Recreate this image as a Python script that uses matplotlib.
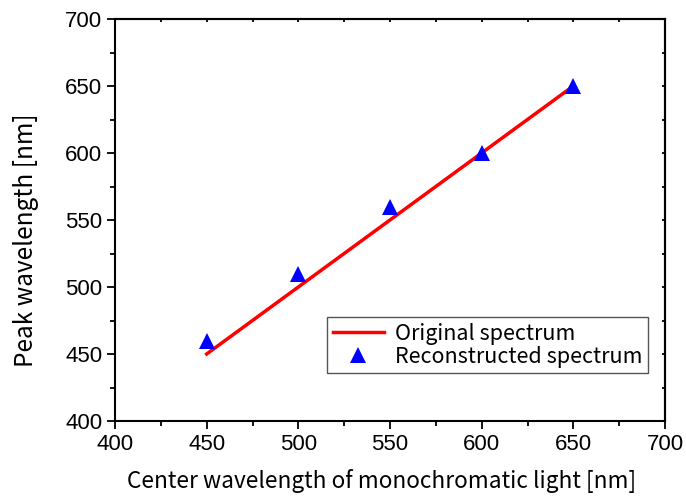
import matplotlib
matplotlib.use("Agg")
import matplotlib.pyplot as plt
from matplotlib.ticker import MultipleLocator

center_wl = [450, 500, 550, 600, 650]
original_peak = [450, 500, 550, 600, 650]
reconstructed_peak = [460, 510, 560, 600, 650]

fig = plt.figure(figsize=(6.86, 4.99), dpi=100)
ax = fig.add_axes([115/686, 1-421/499, (665-115)/686, (421-19)/499])

ax.plot(center_wl, original_peak, color="red", lw=2.5, label="Original spectrum")
ax.plot(center_wl, reconstructed_peak, ls="none", marker="^", color="blue",
        markersize=11.5, markeredgewidth=0, label="Reconstructed spectrum")

ax.set_xlim(400, 700)
ax.set_ylim(400, 700)
ax.xaxis.set_major_locator(MultipleLocator(50))
ax.xaxis.set_minor_locator(MultipleLocator(25))
ax.yaxis.set_major_locator(MultipleLocator(50))
ax.yaxis.set_minor_locator(MultipleLocator(25))

for s in ax.spines.values():
    s.set_linewidth(1.5)

ax.tick_params(which="both", direction="out", width=1.3, labelsize=16,
               top=False, right=False)
ax.tick_params(which="major", length=6, pad=3)
ax.tick_params(which="minor", length=3.5)
for lab in ax.get_xticklabels() + ax.get_yticklabels():
    lab.set_family(["Liberation Sans", "DejaVu Sans"])

# inward ticks on top and right
axt = ax.secondary_xaxis("top")
axt.xaxis.set_major_locator(MultipleLocator(50))
axt.xaxis.set_minor_locator(MultipleLocator(25))
axt.tick_params(which="both", direction="in", width=1.3, labeltop=False, length=2.5)
axr = ax.secondary_yaxis("right")
axr.yaxis.set_major_locator(MultipleLocator(50))
axr.yaxis.set_minor_locator(MultipleLocator(25))
axr.tick_params(which="both", direction="in", width=1.3, labelright=False, length=2.5)
for a in (axt, axr):
    for s in a.spines.values():
        s.set_linewidth(1.5)

lab_font = ["Noto Sans CJK JP", "DejaVu Sans"]
ax.set_xlabel("Center wavelength of monochromatic light [nm]", fontsize=16.3,
              family=lab_font)
ax.xaxis.set_label_coords(0.4845, -0.12)
ax.set_ylabel("Peak wavelength [nm]", fontsize=17.5, family=lab_font)
ax.yaxis.set_label_coords(-0.138, 0.45)

leg = ax.legend(loc="lower right", bbox_to_anchor=(0.969, 0.119),
                prop={"family": lab_font, "size": 15.5}, fancybox=False,
                edgecolor="#555555", framealpha=1, handlelength=2.4,
                borderpad=0.25, labelspacing=0.05, handletextpad=0.5,
                borderaxespad=0)
leg.get_frame().set_linewidth(1.0)

fig.savefig("out.png", dpi=100)
